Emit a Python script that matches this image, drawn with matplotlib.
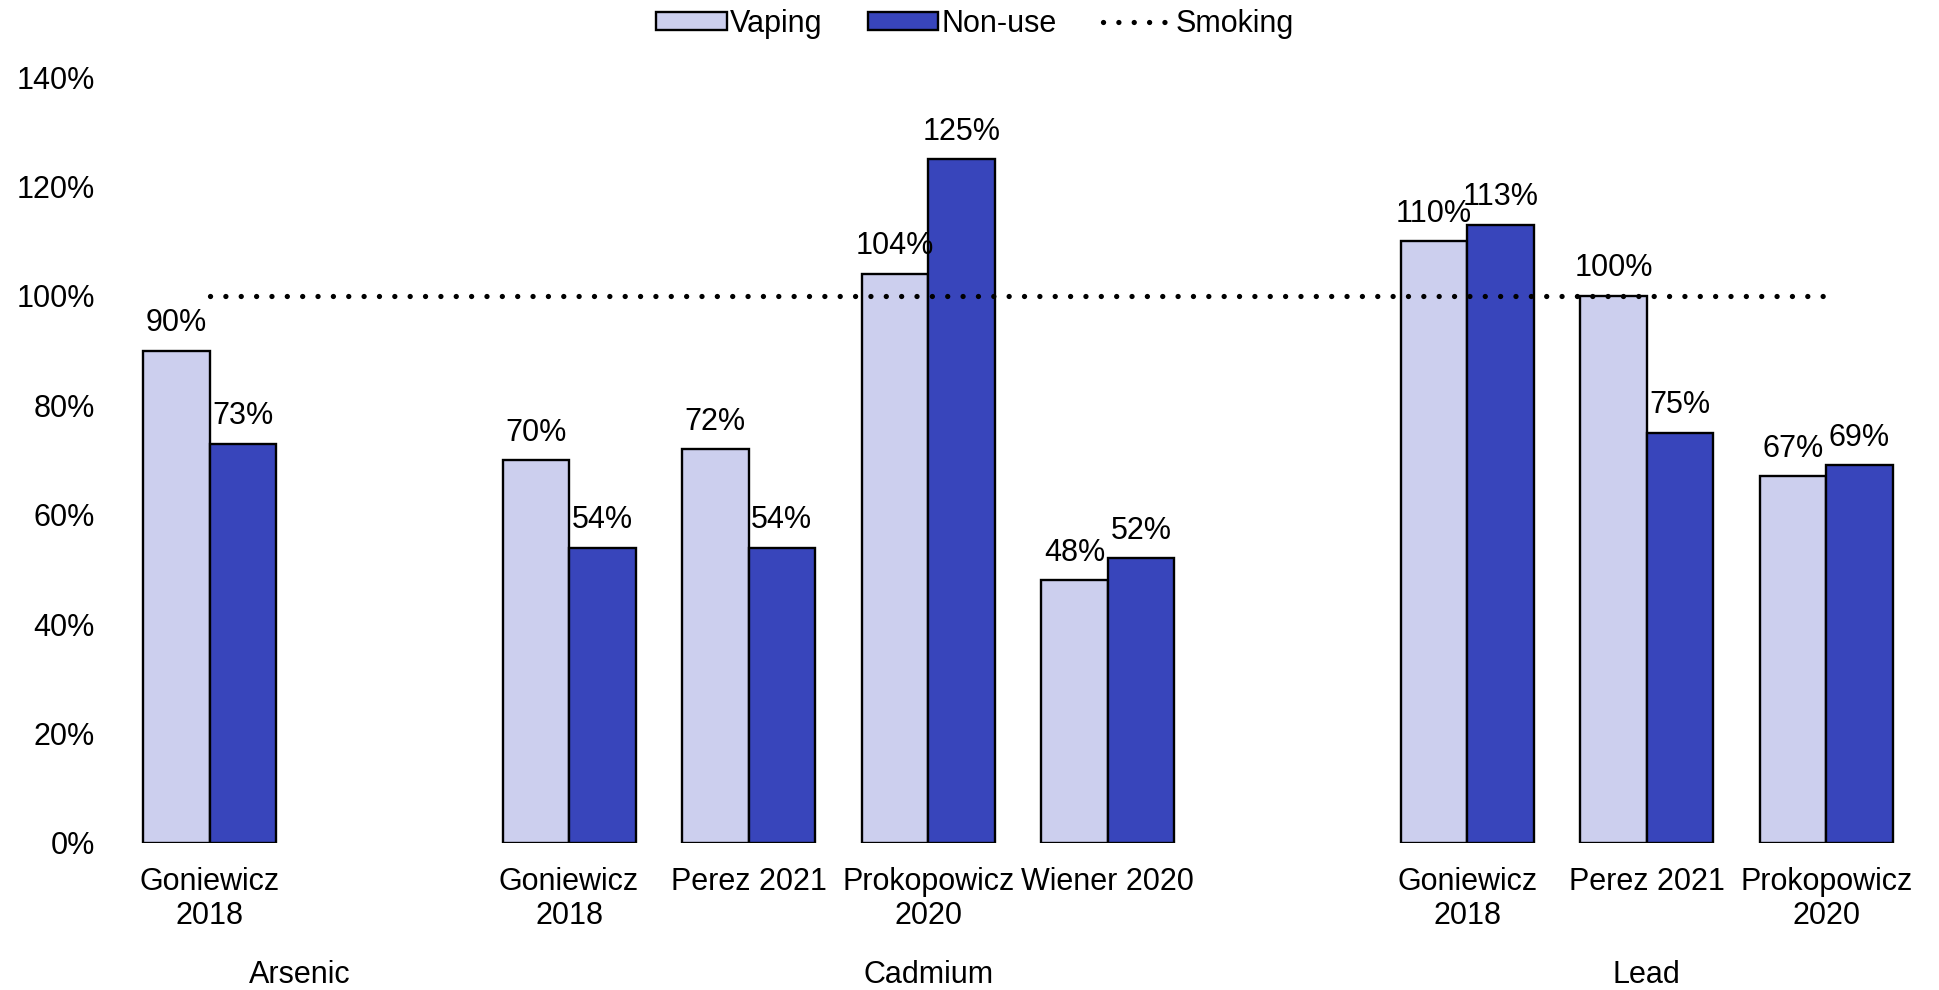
import matplotlib.pyplot as plt
from matplotlib.transforms import blended_transform_factory

plt.rcParams['font.family'] = ['Liberation Sans', 'DejaVu Sans']

# Category slots (empty strings are the spacer slots between metal groups)
studies = ['Goniewicz\n2018', '',
           'Goniewicz\n2018', 'Perez 2021', 'Prokopowicz\n2020', 'Wiener 2020', '',
           'Goniewicz\n2018', 'Perez 2021', 'Prokopowicz\n2020']
vaping = [90, None, 70, 72, 104, 48, None, 110, 100, 67]
non_use = [73, None, 54, 54, 125, 52, None, 113, 75, 69]
smoking = [100] * len(studies)

groups = ['Arsenic', 'Cadmium', 'Lead']
group_ranges = [(0, 1), (2, 6), (7, 9)]

vape_color = '#CCCFEE'
nonuse_color = '#3845BB'
fs = 22

fig = plt.figure(figsize=(19.39, 9.90), dpi=100)
ax = fig.add_axes([0.0619, 0.1485, 0.9263, 0.7737])

width = 0.37
x = list(range(len(studies)))
xv = [i for i, v in zip(x, vaping) if v is not None]
vv = [v for v in vaping if v is not None]
xn = [i for i, v in zip(x, non_use) if v is not None]
nv = [v for v in non_use if v is not None]

b1 = ax.bar([i - width / 2 for i in xv], vv, width, color=vape_color,
            edgecolor='black', linewidth=1.7, label='Vaping', zorder=2)
b2 = ax.bar([i + width / 2 for i in xn], nv, width, color=nonuse_color,
            edgecolor='black', linewidth=1.7, label='Non-use', zorder=2)
ln, = ax.plot(x, smoking, color='black', linewidth=3.8, linestyle=(0, (0.01, 2.9)),
              dash_capstyle='round', label='Smoking', zorder=3)

for bars in (b1, b2):
    ax.bar_label(bars, labels=[f'{v:.0f}%' for v in bars.datavalues],
                 padding=9, fontsize=fs)

ax.set_xlim(-0.5, len(studies) - 0.5)
ax.set_ylim(0, 140)
ax.set_yticks(range(0, 141, 20))
ax.set_yticklabels([f'{t}%' for t in range(0, 141, 20)], fontsize=fs)
ax.set_xticks(x)
ax.set_xticklabels(studies, fontsize=fs, linespacing=1.2)
ax.tick_params(axis='both', length=0)
ax.tick_params(axis='x', pad=17)
ax.tick_params(axis='y', pad=18)
for s in ax.spines.values():
    s.set_visible(False)

trans = blended_transform_factory(ax.transData, ax.transAxes)
for name, (a, b) in zip(groups, group_ranges):
    ax.text((a + b) / 2, -0.172, name, transform=trans, ha='center',
            va='center', fontsize=fs)

fig.legend(handles=[b1, b2, ln], loc='upper center', bbox_to_anchor=(0.503, 1.019),
           ncol=3, frameon=False, fontsize=fs, handlelength=2.3, handleheight=0.5,
           handletextpad=0.1, columnspacing=1.5)

fig.savefig('out.png', dpi=100)
